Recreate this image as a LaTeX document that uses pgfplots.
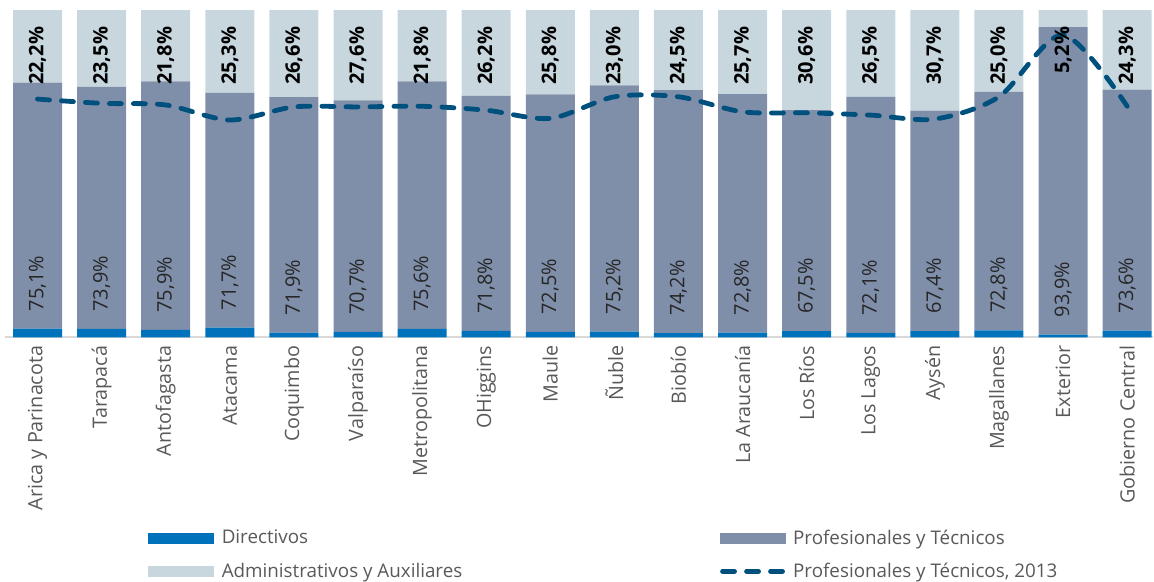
\documentclass[border=0pt]{standalone}
\usepackage{fontspec}
\setmainfont{Open Sans}
\usepackage{pgfplots}
\pgfplotsset{compat=1.18}
\usepackage{pgfplotstable}

\definecolor{cDir}{RGB}{0,114,188}
\definecolor{cPro}{RGB}{127,143,169}
\definecolor{cAdm}{RGB}{200,215,222}
\definecolor{cLine}{RGB}{0,80,126}
\definecolor{cTxt}{RGB}{89,89,89}

\pgfplotstableread{
x  d   p    a    l    plab alab
0  2.7 75.1 22.2 72.8 75,1 22,2
1  2.6 73.9 23.5 71.5 73,9 23,5
2  2.3 75.9 21.8 71.0 75,9 21,8
3  3.0 71.7 25.3 66.4 71,7 25,3
4  1.5 71.9 26.6 70.4 71,9 26,6
5  1.7 70.7 27.6 70.4 70,7 27,6
6  2.6 75.6 21.8 70.6 75,6 21,8
7  2.0 71.8 26.2 69.4 71,8 26,2
8  1.7 72.5 25.8 66.9 72,5 25,8
9  1.8 75.2 23.0 73.5 75,2 23,0
10 1.3 74.2 24.5 73.5 74,2 24,5
11 1.5 72.8 25.7 68.9 72,8 25,7
12 1.9 67.5 30.6 68.6 67,5 30,6
13 1.4 72.1 26.5 67.9 72,1 26,5
14 1.9 67.4 30.7 66.7 67,4 30,7
15 2.2 72.8 25.0 73.5 72,8 25,0
16 0.9 93.9 5.2  92.4 93,9 5,2
17 2.1 73.6 24.3 70.6 73,6 24,3
}\data

\pgfplotsset{common/.style={
  scale only axis, width=860.5pt, height=245.6pt,
  xmin=-0.5, xmax=17.4, ymin=0, ymax=100,
  enlargelimits=false, clip=false, at={(0,0)}, anchor=south west}}

\begin{document}
\begin{tikzpicture}
\useasboundingbox (-4.1pt,-183.4pt) rectangle (861.4pt,253.1pt);
\begin{axis}[common, ybar stacked, bar width=36.75pt,
  axis x line*=bottom, axis y line=none,
  x axis line style={-, draw=black!15, line width=1.5pt},
  xtick={0,...,17}, major tick length=0pt, ytick=\empty,
  xticklabels={Arica y Parinacota, Tarapacá, Antofagasta, Atacama, Coquimbo, Valparaíso, Metropolitana, OHiggins, Maule, Ñuble, Biobío, La Araucanía, Los Ríos, Los Lagos, Aysén, Magallanes, Exterior, Gobierno Central},
  xticklabel style={rotate=90, anchor=east, inner sep=0pt, font=\fontsize{14.8}{17}\selectfont, text=cTxt},
  xticklabel shift=6pt]
\addplot[fill=cDir, draw=none] table[x=x,y=d]{\data};
\addplot[fill=cPro, draw=none] table[x=x,y=p]{\data};
\addplot[fill=cAdm, draw=none] table[x=x,y=a]{\data};
\end{axis}
\begin{axis}[common, hide axis, legend columns=2, legend cell align=left,
  legend style={at={(0.1242,-0.5786)}, anchor=north west, draw=none, fill=none, inner sep=0pt,
    nodes={text=cTxt, font=\fontsize{14.1}{16}\selectfont},
    /tikz/every odd column/.append style={column sep=4pt},
    /tikz/every even column/.append style={column sep=191pt}, /tikz/row sep=8.5pt}]
\addlegendimage{legend image code/.code={\fill[cDir] (0pt,-3.75pt) rectangle (48.75pt,3.75pt);}}
\addlegendentry{Directivos}
\addlegendimage{legend image code/.code={\fill[cPro] (0pt,-3.75pt) rectangle (48.75pt,3.75pt);}}
\addlegendentry{Profesionales y Técnicos}
\addlegendimage{legend image code/.code={\fill[cAdm] (0pt,-3.75pt) rectangle (48.75pt,3.75pt);}}
\addlegendentry{Administrativos y Auxiliares}
\addplot[smooth, tension=0.5, color=cLine, line width=3.6pt, line cap=round, dash pattern=on 9pt off 9pt,
  legend image code/.code={\draw[cLine, line width=3.6pt, line cap=round, dash pattern=on 9pt off 9pt] (2pt,0) -- (47pt,0);}]
  table[x=x,y=l]{\data};
\addlegendentry{Profesionales y Técnicos, 2013}
\addplot[forget plot, draw=none, mark=none, point meta=explicit symbolic,
  nodes near coords={\pgfplotspointmeta\%},
  nodes near coords style={yshift=-12.4pt, rotate=90, anchor=east, inner sep=0pt, text=black, font=\fontsize{15}{17}\selectfont\bfseries}]
  table[x=x, y expr=\thisrow{d}+\thisrow{p}+\thisrow{a}, meta=alab]{\data};
\addplot[forget plot, draw=none, mark=none, point meta=explicit symbolic,
  nodes near coords={\pgfplotspointmeta\%},
  nodes near coords style={yshift=12.75pt, rotate=90, anchor=west, inner sep=0pt, text=black!85, font=\fontsize{15}{17}\selectfont}]
  table[x=x, y=d, meta=plab]{\data};
\end{axis}
\end{tikzpicture}
\end{document}
